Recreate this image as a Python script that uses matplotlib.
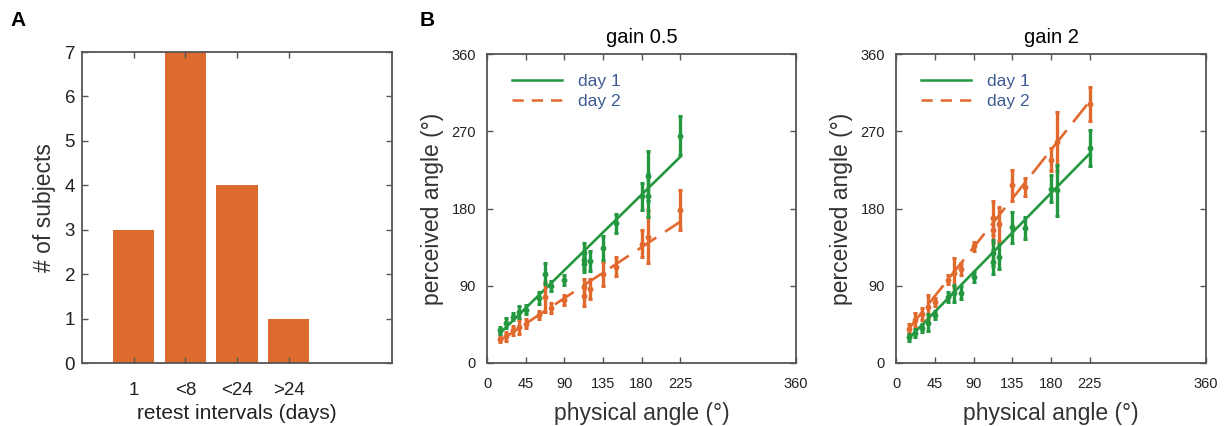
import matplotlib
matplotlib.use("Agg")
import matplotlib.pyplot as plt
import numpy as np
from matplotlib.lines import Line2D

plt.rcParams['font.family'] = ['Liberation Sans', 'DejaVu Sans']

# ---------------- Panel A data ----------------
interval_labels = ['1', '<8', '<24', '>24']
n_subjects = [3, 7, 4, 1]

# ---------------- Panel B data ----------------
# gain 0.5
g05_d1_x = [15, 22.5, 30, 37.5, 45, 60, 67.5, 75, 90, 112.5, 112.5, 112.5, 120, 135, 150, 180, 187.5, 187.5, 225]
g05_d1_y = [38, 47, 54, 59, 62, 76, 104, 90, 97, 128, 120, 115, 119, 134, 163, 194, 218, 195, 265]
g05_d1_e = [4, 6, 4, 7, 5, 7, 12, 6, 6, 12, 10, 9, 12, 14, 11, 16, 29, 25, 23]
g05_d2_x = [15, 22.5, 30, 37.5, 45, 60, 67.5, 75, 90, 112.5, 112.5, 120, 135, 150, 180, 187.5, 225]
g05_d2_y = [28, 31, 38, 42, 46, 56, 77, 64, 73, 88, 78, 86, 104, 112, 139, 147, 178]
g05_d2_e = [4, 5, 5, 8, 5, 5, 17, 6, 6, 10, 12, 12, 14, 11, 16, 31, 23]
g05_d1_fit = [34.6, 240.0]   # fitted line at x = 15 and x = 225
g05_d2_fit = [26.0, 164.5]

# gain 2
g2_d1_x = [15, 22.5, 30, 37.5, 45, 60, 67.5, 75, 90, 112.5, 112.5, 120, 135, 150, 180, 187.5, 225]
g2_d1_y = [30, 35, 41, 47, 56, 77, 81, 82, 100, 128, 118, 124, 158, 157, 203, 201, 250]
g2_d1_e = [4, 5, 5, 10, 5, 6, 10, 8, 6, 15, 14, 15, 18, 13, 16, 30, 21]
g2_d2_x = [15, 22.5, 30, 37.5, 45, 60, 67.5, 75, 90, 112.5, 112.5, 120, 135, 150, 180, 187.5, 225]
g2_d2_y = [40, 50, 57, 65, 71, 97, 105, 110, 136, 169, 155, 162, 207, 205, 237, 258, 302]
g2_d2_e = [5, 8, 7, 14, 5, 5, 17, 7, 5, 20, 15, 20, 18, 10, 13, 34, 20]
g2_d1_fit = [28.8, 244.0]
g2_d2_fit = [40.0, 305.0]
fit_x = [15, 225]

angle_ticks = [0, 45, 90, 135, 180, 225, 360]
perc_ticks = [0, 90, 180, 270, 360]

GREEN = '#23983f'
ORANGE = '#e2692e'
BAR = '#dd6a2f'
SPINE = '#555555'
LEG_TXT = '#3e5a92'

fig = plt.figure(figsize=(12.3, 4.26), dpi=100)
W, H = 1230, 426

def box(l, t, r, b):
    return [l / W, 1 - b / H, (r - l) / W, (b - t) / H]

def style(ax, size):
    for s in ax.spines.values():
        s.set_color(SPINE)
        s.set_linewidth(1.3)
    ax.tick_params(direction='in', length=4, width=1, colors=SPINE,
                   labelcolor='#222222', labelsize=size, top=True, right=True)

# ---------------- Panel A ----------------
axA = fig.add_axes(box(82, 52, 392, 363))
pos = np.arange(1, len(n_subjects) + 1)
axA.bar(pos, n_subjects, width=0.8, color=BAR)
axA.set_xlim(0, 6)
axA.set_ylim(0, 7)
axA.set_xticks(pos)
axA.set_xticklabels(interval_labels)
axA.set_yticks(range(0, 8))
style(axA, 13.5)
axA.tick_params(axis='x', pad=14)
axA.tick_params(axis='y', pad=5)
axA.set_xlabel('retest intervals (days)', fontsize=15, labelpad=3, color='#222222')
axA.set_ylabel('# of subjects', fontsize=16.5, labelpad=6, color='#333333')

fig.text(18 / W, 1 - 20 / H, 'A', fontsize=15, fontweight='bold', va='center', ha='center')
fig.text(427 / W, 1 - 20 / H, 'B', fontsize=15, fontweight='bold', va='center', ha='center')

# ---------------- Panel B ----------------
def panel(rect, title, d1, d2, f1, f2):
    ax = fig.add_axes(rect)
    dash = (8.5, 4.0)
    ax.plot(fit_x, f1, color=GREEN, lw=1.9, zorder=3)
    ax.plot(fit_x, f2, color=ORANGE, lw=1.9, dashes=dash, zorder=3)
    for (x, y, e), c in ((d2, ORANGE), (d1, GREEN)):
        ax.errorbar(x, y, yerr=e, fmt='o', ms=3.2, color=c, ecolor=c,
                    elinewidth=2.4, capsize=1.3, capthick=2.2, zorder=4)
    ax.set_xlim(0, 360)
    ax.set_ylim(0, 360)
    ax.set_xticks(angle_ticks)
    ax.set_yticks(perc_ticks)
    style(ax, 10.5)
    ax.tick_params(axis='x', pad=10)
    ax.tick_params(axis='y', pad=8)
    ax.set_title(title, fontsize=14.5, pad=8)
    ax.set_xlabel('physical angle (°)', fontsize=16.5, labelpad=8, color='#333333')
    ax.set_ylabel('perceived angle (°)', fontsize=16.5, labelpad=5, color='#333333')
    handles = [Line2D([], [], color=GREEN, lw=1.8),
               Line2D([], [], color=ORANGE, lw=1.8, dashes=(4.5, 3.2))]
    leg = ax.legend(handles, ['day 1', 'day 2'], loc='upper left',
                    bbox_to_anchor=(0.03, 0.985), frameon=False, fontsize=12.5,
                    handlelength=2.9, handletextpad=0.9, labelspacing=0.25)
    for t in leg.get_texts():
        t.set_color(LEG_TXT)
    return ax

panel(box(487, 54, 796, 363), 'gain 0.5',
      (g05_d1_x, g05_d1_y, g05_d1_e), (g05_d2_x, g05_d2_y, g05_d2_e),
      g05_d1_fit, g05_d2_fit)
panel(box(896, 54, 1206, 363), 'gain 2',
      (g2_d1_x, g2_d1_y, g2_d1_e), (g2_d2_x, g2_d2_y, g2_d2_e),
      g2_d1_fit, g2_d2_fit)

fig.savefig('out.png', dpi=100)
